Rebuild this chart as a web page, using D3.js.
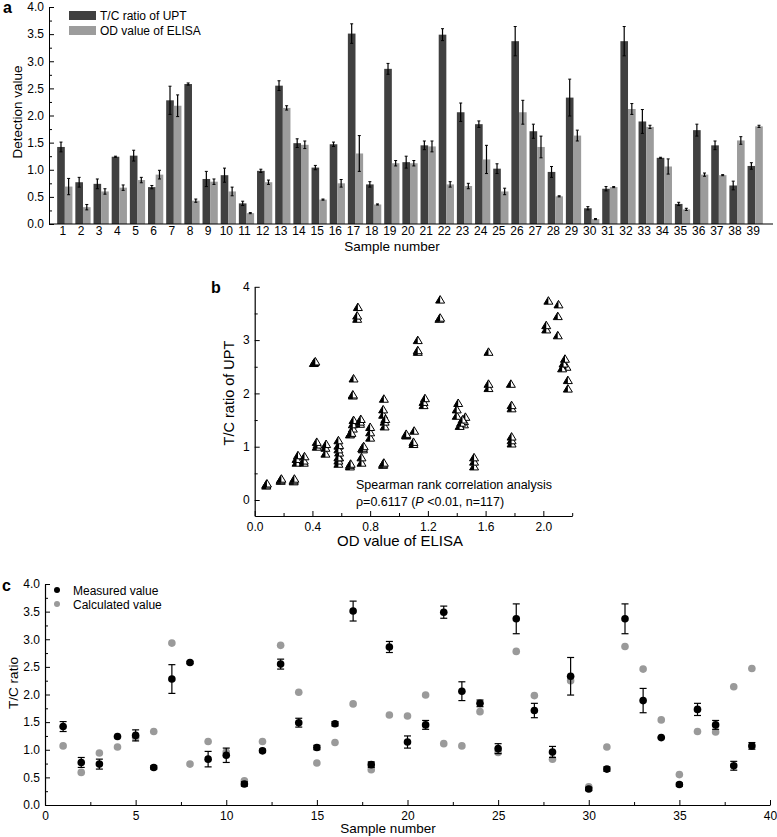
<!DOCTYPE html>
<html><head><meta charset="utf-8">
<script src="https://cdn.jsdelivr.net/npm/d3@7"></script>
<style>
body{margin:0;background:#fff}
svg{display:block}
text{font-family:"Liberation Sans",Arial,sans-serif;fill:#000}
</style>
</head><body>
<svg id="chart" width="777" height="837"></svg>
<script>
// ---------- DATA ----------
const samples = [1,2,3,4,5,6,7,8,9,10,11,12,13,14,15,16,17,18,19,20,21,22,23,24,25,26,27,28,29,30,31,32,33,34,35,36,37,38,39];
const uptRatio = [1.42,0.77,0.74,1.24,1.26,0.68,2.28,2.58,0.83,0.90,0.38,0.98,2.55,1.49,1.04,1.47,3.51,0.73,2.86,1.14,1.45,3.49,2.06,1.84,1.02,3.37,1.71,0.96,2.33,0.29,0.65,3.37,1.89,1.22,0.37,1.73,1.45,0.71,1.07];
const uptErr   = [0.09,0.09,0.09,0.01,0.10,0.03,0.26,0.02,0.14,0.13,0.04,0.03,0.09,0.08,0.04,0.04,0.18,0.05,0.10,0.11,0.08,0.11,0.17,0.06,0.09,0.27,0.13,0.10,0.34,0.03,0.04,0.27,0.22,0.01,0.03,0.11,0.08,0.08,0.06];
const elisaOD  = [0.69,0.31,0.60,0.67,0.81,0.91,2.18,0.43,0.78,0.60,0.20,0.77,2.14,1.46,0.45,0.75,1.30,0.36,1.12,1.12,1.43,0.73,0.70,1.19,0.60,2.06,1.42,0.51,1.63,0.09,0.68,2.12,1.79,1.06,0.27,0.91,0.90,1.54,1.80];
const elisaErr = [0.15,0.05,0.05,0.05,0.05,0.08,0.20,0.03,0.05,0.08,0.01,0.04,0.04,0.07,0.01,0.07,0.33,0.01,0.05,0.05,0.10,0.05,0.05,0.26,0.06,0.22,0.20,0.01,0.10,0.01,0.01,0.10,0.03,0.14,0.02,0.03,0.01,0.07,0.02];
const calculatedValue = [1.07,0.59,0.94,1.05,1.22,1.33,2.93,0.74,1.15,0.96,0.44,1.15,2.89,2.04,0.76,1.13,1.83,0.64,1.63,1.61,1.99,1.11,1.07,1.69,0.95,2.78,1.98,0.83,2.25,0.33,1.05,2.87,2.46,1.54,0.55,1.33,1.32,2.14,2.47];

const scatterOD = [
 0.68,0.68,0.685, 0.29,0.29,0.30, 0.58,0.58,0.585, 0.66,0.665,0.67, 0.80,0.80,0.80,
 0.89,0.89,0.895, 2.17,2.17,2.16, 0.41,0.415,0.42, 0.74,0.74,0.745, 0.58,0.585,0.58,
 0.18,0.18,0.185, 0.75,0.75,0.755, 2.13,2.14,2.15, 1.45,1.45,1.46, 0.43,0.435,0.43,
 0.73,0.73,0.735, 1.28,1.285,1.285, 0.34,0.34,0.345, 1.13,1.13,1.13, 1.10,1.10,1.105,
 1.42,1.43,1.44, 0.71,0.71,0.715, 0.68,0.68,0.685, 1.17,1.17,1.18, 0.58,0.585,0.58,
 2.02,2.02,2.035, 1.40,1.40,1.41, 0.49,0.49,0.495, 1.62,1.62,1.62, 0.08,0.08,0.085,
 0.66,0.66,0.665, 2.10,2.10,2.105, 1.78,1.78,1.775, 1.05,1.05,1.05, 0.27,0.27,0.275,
 0.89,0.89,0.895, 0.90,0.90,0.905, 1.52,1.52,1.52, 1.78,1.78,1.78];
const scatterTC = [
 1.34,1.42,1.50, 0.70,0.77,0.84, 0.68,0.74,0.80, 1.23,1.25,1.26, 1.17,1.27,1.37,
 0.66,0.68,0.70, 2.09,2.25,2.50, 2.57,2.59,2.60, 0.70,0.80,0.97, 0.80,0.89,1.02,
 0.36,0.38,0.40, 0.95,0.98,1.01, 2.47,2.56,2.65, 1.42,1.48,1.56, 1.00,1.04,1.09,
 1.43,1.47,1.52, 3.40,3.42,3.76, 0.70,0.74,0.82, 2.78,2.81,3.00, 1.05,1.09,1.30,
 1.39,1.45,1.51, 3.40,3.46,3.62, 1.96,1.98,2.28, 1.78,1.84,1.91, 0.95,1.03,1.12,
 3.20,3.28,3.74, 1.58,1.70,1.82, 0.87,0.98,1.05, 2.10,2.18,2.78, 0.27,0.29,0.31,
 0.63,0.66,0.68, 3.09,3.45,3.67, 1.72,1.78,2.18, 1.21,1.22,1.24, 0.35,0.37,0.40,
 1.60,1.70,1.90, 1.38,1.47,1.52, 0.63,0.72,0.80, 1.06,1.12,1.19];

const yTicksA = [0,0.5,1.0,1.5,2.0,2.5,3.0,3.5,4.0];
const yMinorA = [0.25,0.75,1.25,1.75,2.25,2.75,3.25,3.75];
const xTicksB = [0,0.4,0.8,1.2,1.6,2.0];
const xMinorB = [0.2,0.6,1.0,1.4,1.8,2.2];
const yTicksB = [0,1,2,3,4];
const yMinorB = [0.5,1.5,2.5,3.5];
const xTicksC = [0,5,10,15,20,25,30,35,40];
const xMinorC = [2.5,7.5,12.5,17.5,22.5,27.5,32.5,37.5];

const seriesA = ["T/C ratio of UPT","OD value of ELISA"];
const seriesC = ["Measured value","Calculated value"];

const DARK = "#404040", LIGHT = "#9c9c9c", GRAYDOT = "#9a9a9a";

const svg = d3.select("#chart");

function inwardLeft(g, scale, major, minor, fmt, x){
  const ax = g.append("g").attr("transform",`translate(${x},0)`)
    .call(d3.axisLeft(scale).tickValues(major).tickFormat(fmt).tickSize(-5).tickSizeOuter(0).tickPadding(5));
  ax.selectAll("text").style("font-size","12px");
  g.append("g").attr("transform",`translate(${x},0)`)
    .call(d3.axisLeft(scale).tickValues(minor).tickFormat("").tickSize(-3).tickSizeOuter(0))
    .select(".domain").remove();
  return ax;
}
function inwardBottom(g, scale, major, minor, fmt, y){
  const ax = g.append("g").attr("transform",`translate(0,${y})`)
    .call(d3.axisBottom(scale).tickValues(major).tickFormat(fmt).tickSize(-5).tickSizeOuter(0).tickPadding(6));
  ax.selectAll("text").style("font-size","12px");
  g.append("g").attr("transform",`translate(0,${y})`)
    .call(d3.axisBottom(scale).tickValues(minor).tickFormat("").tickSize(-3).tickSizeOuter(0))
    .select(".domain").remove();
  return ax;
}

// ---------- PANEL A ----------
const gA = svg.append("g");
const xA = d3.scaleBand().domain(samples).range([55,765]).paddingInner(0.16).paddingOuter(0.12);
const xSub = d3.scaleBand().domain(seriesA).range([0,xA.bandwidth()]);
const yA = d3.scaleLinear().domain([0,4]).range([224,7]);

const barData = [];
samples.forEach((s,i)=>{
  barData.push({s, key:seriesA[0], v:uptRatio[i], e:uptErr[i], c:DARK});
  barData.push({s, key:seriesA[1], v:elisaOD[i], e:elisaErr[i], c:LIGHT});
});
gA.selectAll("rect.bar").data(barData).join("rect").attr("class","bar")
  .attr("x",d=>xA(d.s)+xSub(d.key)).attr("width",xSub.bandwidth())
  .attr("y",d=>yA(d.v)).attr("height",d=>yA(0)-yA(d.v)).attr("fill",d=>d.c);
const errA = gA.selectAll("g.err").data(barData).join("g").attr("class","err")
  .attr("transform",d=>`translate(${xA(d.s)+xSub(d.key)+xSub.bandwidth()/2},0)`);
errA.append("line").attr("y1",d=>yA(d.v-d.e)).attr("y2",d=>yA(d.v+d.e)).attr("stroke","#000").attr("stroke-width",1.2);
errA.append("line").attr("x1",-1.5).attr("x2",1.5).attr("y1",d=>yA(d.v+d.e)).attr("y2",d=>yA(d.v+d.e)).attr("stroke","#000");
errA.append("line").attr("x1",-1.5).attr("x2",1.5).attr("y1",d=>yA(d.v-d.e)).attr("y2",d=>yA(d.v-d.e)).attr("stroke","#000");

inwardLeft(gA, yA, yTicksA, yMinorA, d3.format(".1f"), 49);
gA.append("line").attr("x1",49).attr("x2",773).attr("y1",yA(0)).attr("y2",yA(0)).attr("stroke","#000").attr("stroke-width",1.2);
const xAxA = gA.append("g").attr("transform",`translate(-2,${yA(0)})`)
  .call(d3.axisBottom(xA).tickSize(0).tickPadding(2));
xAxA.select(".domain").remove();
xAxA.selectAll("text").style("font-size","12px");

gA.append("text").attr("transform","translate(22,112) rotate(-90)").attr("text-anchor","middle")
  .style("font-size","13.5px").text("Detection value");
gA.append("text").attr("x",392).attr("y",251).attr("text-anchor","middle").style("font-size","13.5px").text("Sample number");
gA.append("text").attr("x",3).attr("y",13).style("font-size","16px").style("font-weight","bold").text("a");

const legA = gA.selectAll("g.leg").data(seriesA).join("g").attr("class","leg")
  .attr("transform",(d,i)=>`translate(69,${11+i*15})`);
legA.append("rect").attr("width",27).attr("height",9).attr("fill",(d,i)=>i?LIGHT:DARK);
legA.append("text").attr("x",31).attr("y",9).style("font-size","12px").text(d=>d);

// ---------- PANEL B ----------
const gB = svg.append("g");
const xB = d3.scaleLinear().domain([0,2.2]).range([254.7,572.2]);
const yB = d3.scaleLinear().domain([-0.3,4]).range([516,286.8]);
inwardLeft(gB, yB, yTicksB, yMinorB, d3.format("d"), xB(0));
inwardBottom(gB, xB, xTicksB, xMinorB, d3.format(".1f"), yB(-0.3));
gB.selectAll(".domain").attr("stroke-width",1.2);

const tri = "M0,-4L4.5,3.5L-4.5,3.5Z";
const half = "M0,-4L0,3.5L-4.5,3.5Z";
const pts = gB.selectAll("g.pt").data(scatterOD.map((x,i)=>({x, y:scatterTC[i]}))).join("g").attr("class","pt")
  .attr("transform",d=>`translate(${xB(d.x)},${yB(d.y)})`);
pts.append("path").attr("d",tri).attr("fill","#fff").attr("stroke","#000").attr("stroke-width",1);
pts.append("path").attr("d",half).attr("fill","#000");

gB.append("text").attr("transform","translate(234,393) rotate(-90)").attr("text-anchor","middle")
  .style("font-size","14.5px").text("T/C ratio of UPT");
gB.append("text").attr("x",400).attr("y",546).attr("text-anchor","middle").style("font-size","15px").text("OD value of ELISA");
gB.append("text").attr("x",211).attr("y",293).style("font-size","16px").style("font-weight","bold").text("b");
gB.append("text").attr("x",356).attr("y",489).style("font-size","12.5px").text("Spearman rank correlation analysis");
const rho = gB.append("text").attr("x",356).attr("y",506).style("font-size","12.5px");
rho.append("tspan").text("ρ=0.6117 (");
rho.append("tspan").style("font-style","italic").text("P");
rho.append("tspan").text(" <0.01, n=117)");

// ---------- PANEL C ----------
const gC = svg.append("g");
const xC = d3.scaleLinear().domain([0,40]).range([45,770]);
const yC = d3.scaleLinear().domain([0,4]).range([805,584]);
inwardLeft(gC, yC, yTicksA, yMinorA, d3.format(".1f"), xC(0));
inwardBottom(gC, xC, xTicksC, xMinorC, d3.format("d"), yC(0));
gC.selectAll(".domain").attr("stroke-width",1.2);

gC.selectAll("circle.calc").data(samples).join("circle").attr("class","calc")
  .attr("cx",d=>xC(d)).attr("cy",(d,i)=>yC(calculatedValue[i])).attr("r",3.8).attr("fill",GRAYDOT);
const errC = gC.selectAll("g.errc").data(samples).join("g").attr("class","errc")
  .attr("transform",d=>`translate(${xC(d)},0)`);
errC.append("line").attr("y1",(d,i)=>yC(uptRatio[i]-uptErr[i])).attr("y2",(d,i)=>yC(uptRatio[i]+uptErr[i])).attr("stroke","#000").attr("stroke-width",1.2);
errC.append("line").attr("x1",-3.5).attr("x2",3.5).attr("y1",(d,i)=>yC(uptRatio[i]+uptErr[i])).attr("y2",(d,i)=>yC(uptRatio[i]+uptErr[i])).attr("stroke","#000").attr("stroke-width",1.2);
errC.append("line").attr("x1",-3.5).attr("x2",3.5).attr("y1",(d,i)=>yC(uptRatio[i]-uptErr[i])).attr("y2",(d,i)=>yC(uptRatio[i]-uptErr[i])).attr("stroke","#000").attr("stroke-width",1.2);
gC.selectAll("circle.meas").data(samples).join("circle").attr("class","meas")
  .attr("cx",d=>xC(d)).attr("cy",(d,i)=>yC(uptRatio[i])).attr("r",3.8).attr("fill","#000");

const legC = gC.selectAll("g.legc").data(seriesC).join("g").attr("class","legc")
  .attr("transform",(d,i)=>`translate(57,${590+i*14})`);
legC.append("circle").attr("r",3).attr("fill",(d,i)=>i?GRAYDOT:"#000");
legC.append("text").attr("x",16).attr("y",4.5).style("font-size","12px").text(d=>d);

gC.append("text").attr("transform","translate(18,683) rotate(-90)").attr("text-anchor","middle")
  .style("font-size","13.5px").text("T/C ratio");
gC.append("text").attr("x",388).attr("y",833).attr("text-anchor","middle").style("font-size","13.5px").text("Sample number");
gC.append("text").attr("x",2).attr("y",591).style("font-size","16px").style("font-weight","bold").text("c");
</script>
</body></html>
